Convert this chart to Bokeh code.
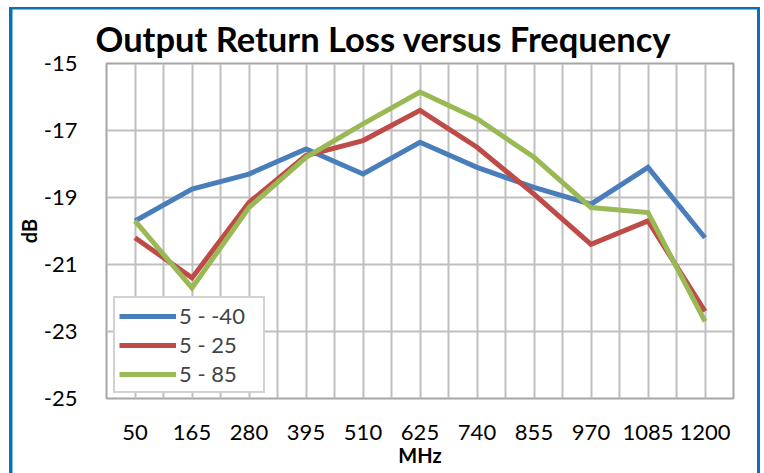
from bokeh.plotting import figure
from bokeh.models import Range1d, FixedTicker, Legend, LegendItem, CustomJSTickFormatter
from bokeh.embed import file_html
from bokeh.resources import INLINE

# ---- data ----
freq = [50, 165, 280, 395, 510, 625, 740, 855, 970, 1085, 1200]
s_m40 = [-19.7, -18.75, -18.3, -17.55, -18.3, -17.35, -18.1, -18.7, -19.2, -18.1, -20.2]
s_25 = [-20.2, -21.4, -19.15, -17.75, -17.3, -16.4, -17.5, -18.9, -20.4, -19.7, -22.4]
s_85 = [-19.7, -21.7, -19.3, -17.8, -16.8, -15.85, -16.65, -17.8, -19.3, -19.45, -22.7]
series_names = ["5 - -40", "5 - 25", "5 - 85"]
y_ticks = [-25, -23, -21, -19, -17, -15]
title_text = "Output Return Loss versus Frequency"

FONT = "Lato"
step = freq[1] - freq[0]
half = step / 2.0

W, H = 764, 473
FL, FR, FT, FB = 106, 733, 63, 398
p = figure(width=W, height=H, output_backend="svg", toolbar_location=None,
           x_range=Range1d(freq[0] - half, freq[-1] + half),
           y_range=Range1d(-25, -15),
           min_border_left=FL, min_border_right=W - FR,
           min_border_top=FT, min_border_bottom=H - FB)
p.border_fill_color = None
p.background_fill_color = "white"
BC = "#0A71B6"
p.styles = {
    "background": (f"linear-gradient({BC},{BC}) 9px 7px / 3.5px 520px no-repeat, "
                   f"linear-gradient({BC},{BC}) 9px 7px / 751px 2.5px no-repeat, "
                   f"linear-gradient({BC},{BC}) 757px 7px / 3px 520px no-repeat, white"),
}

p.title.text = title_text
p.title.text_font = FONT
p.title.text_font_style = "bold"
p.title.text_font_size = "34.5px"
p.title.text_color = "black"
p.title.align = "left"
p.title.offset = -11
p.title.standoff = 9

colors = ["#4A7EBB", "#BE4B48", "#98B954"]
renderers = []
for ys, c in zip([s_m40, s_25, s_85], colors):
    r = p.line(freq, ys, line_color=c, line_width=5, line_join="miter")
    renderers.append(r)

# grid
grid_pos = [f - half for f in freq] + [freq[-1] + half] + freq
p.xgrid.ticker = FixedTicker(ticks=sorted(grid_pos))
p.xgrid.grid_line_color = "#BFBFBF"
p.xgrid.grid_line_width = 2
p.ygrid.ticker = FixedTicker(ticks=y_ticks)
p.ygrid.grid_line_color = "#BFBFBF"
p.ygrid.grid_line_width = 2

p.outline_line_color = "#A6A6A6"
p.outline_line_width = 2

# axes
p.xaxis.ticker = FixedTicker(ticks=freq)
p.yaxis.ticker = FixedTicker(ticks=y_ticks)
p.yaxis.formatter = CustomJSTickFormatter(code="return tick.toString();")
for ax in (p.xaxis[0], p.yaxis[0]):
    ax.axis_line_color = None
    ax.major_tick_line_color = None
    ax.minor_tick_line_color = None
    ax.major_label_text_font = FONT
    ax.major_label_text_font_size = "22px"
    ax.major_label_text_color = "black"
    ax.axis_label_text_font = FONT
    ax.axis_label_text_font_style = "bold"
    ax.axis_label_text_font_size = "20px"
    ax.axis_label_text_color = "black"
p.xaxis.major_label_standoff = 20
p.yaxis.major_label_standoff = 23
p.xaxis.axis_label = "MHz"
p.xaxis.axis_label_standoff = 0
p.yaxis.axis_label = "dB"
p.yaxis.axis_label_standoff = 0

legend = Legend(items=[LegendItem(label=n, renderers=[r]) for n, r in zip(series_names, renderers)],
                location=(7, 5))
legend.label_text_font = FONT
legend.label_text_font_size = "22px"
legend.glyph_width = 57
legend.glyph_height = 24
legend.label_height = 24
legend.label_width = 80
legend.spacing = 2
legend.padding = 4
legend.margin = 0
legend.label_standoff = 3
legend.border_line_color = "#A6A6A6"
legend.border_line_width = 2
legend.background_fill_color = "white"
legend.background_fill_alpha = 1
p.add_layout(legend, "center")

open("out.html", "w").write(file_html(p, INLINE))
